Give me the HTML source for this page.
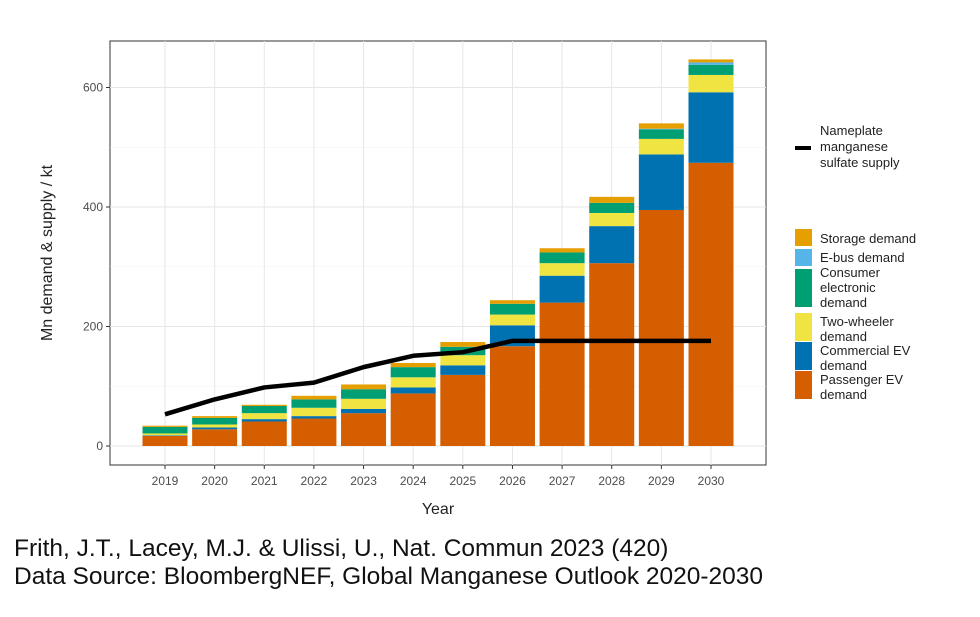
<!DOCTYPE html>
<html><head><meta charset="utf-8"><style>
body{margin:0;background:#fff;font-family:"Liberation Sans",Arial,sans-serif;}
svg text{font-family:"Liberation Sans",Arial,sans-serif;}
.foot{position:absolute;left:14px;font-size:24.5px;color:#111;line-height:28px;white-space:nowrap;}
</style></head><body>
<div style="position:relative;width:980px;height:617px;">
<svg id="chart" width="980" height="617" style="position:absolute;left:0;top:0"></svg>
<div class="foot" style="top:535px">Frith, J.T., Lacey, M.J. &amp; Ulissi, U., Nat. Commun 2023 (420)</div>
<div class="foot" style="top:563px">Data Source: BloombergNEF, Global Manganese Outlook 2020-2030</div>
</div>
<script>
const years=["2019","2020","2021","2022","2023","2024","2025","2026","2027","2028","2029","2030"];
const passenger=[17,28,41,46,55,88,119,167,240,306,395,474];
const commercial=[1,3,4,4,7,10,16,35,45,62,93,118];
const twowheeler=[3,5,10,14,17,17,17,18,21,22,26,29];
const consumer=[11,11,12,14,16,17,14,18,18,17,16,17];
const ebus=[0,0,0,0,0,0,0,0,0,0,1,4];
const storage=[2,3,2,6,8,7,8,6,7,10,9,5];
const supply=[53,78,98,106,132,151,157,176,176,176,176,176];
const yTicks=[0,200,400,600];

const NS="http://www.w3.org/2000/svg";
const svg=document.getElementById('chart');
function mk(t,a,p){const e=document.createElementNS(NS,t);for(const k in a)e.setAttribute(k,a[k]);(p||svg).appendChild(e);return e;}
const P={l:110,r:766,t:41,b:465};
const y=v=>446-v*0.5975;
const x=i=>165+i*(711-165)/11;
const bw=45;

let panel=mk('rect',{x:P.l,y:P.t,width:P.r-P.l,height:P.b-P.t,fill:'#fff',stroke:'#333','stroke-width':1});

[100,300,500].forEach(v=>{mk('line',{x1:P.l,x2:P.r,y1:y(v),y2:y(v),stroke:'#f2f2f2','stroke-width':0.6});});
yTicks.forEach(v=>{
 let g=mk('line',{x1:P.l,x2:P.r,y1:y(v),y2:y(v),stroke:'#e6e6e6','stroke-width':1});
 
 mk('line',{x1:P.l-4,x2:P.l,y1:y(v),y2:y(v),stroke:'#333'});
 let t=mk('text',{x:P.l-7,y:y(v)+4,'text-anchor':'end','font-size':12,fill:'#4d4d4d'});t.textContent=v;
 
});
years.forEach((yr,i)=>{
 let g=mk('line',{x1:x(i),x2:x(i),y1:P.t,y2:P.b,stroke:'#e6e6e6'});
 
 mk('line',{x1:x(i),x2:x(i),y1:P.b,y2:P.b+4,stroke:'#333'});
 let t=mk('text',{x:x(i),y:P.b+20,'text-anchor':'middle','font-size':12,fill:'#4d4d4d'});t.textContent=yr;
 
});
const series=[["passenger",passenger,"#d55e00"],["commercial",commercial,"#0072b2"],["two-wheeler",twowheeler,"#f0e442"],["consumer",consumer,"#009e73"],["ebus",ebus,"#56b4e9"],["storage",storage,"#e69f00"]];
years.forEach((yr,i)=>{
 let base=0;
 series.forEach(([n,arr,c])=>{
  const v=arr[i];if(v<=0)return;
  let r=mk('rect',{x:x(i)-bw/2,y:y(base+v),width:bw,height:y(base)-y(base+v),fill:c});
  
  base+=v;
 });
});
let pts=supply.map((v,i)=>x(i)+','+y(v)).join(' ');
let line=mk('polyline',{points:pts,fill:'none',stroke:'#000','stroke-width':4.5,'stroke-linejoin':'round'});

let yt=mk('text',{x:52,y:253,'text-anchor':'middle','font-size':16,fill:'#222',transform:'rotate(-90 52 253)'});yt.textContent='Mn demand & supply / kt';

let xt=mk('text',{x:438,y:514,'text-anchor':'middle','font-size':16,fill:'#222'});xt.textContent='Year';

let ll=mk('line',{x1:795,x2:811,y1:148,y2:148,stroke:'#000','stroke-width':4});

[["Nameplate",135],["manganese",151],["sulfate supply",167]].forEach(([s,yy])=>{let t=mk('text',{x:820,y:yy,'font-size':13,fill:'#222'});t.textContent=s;});
const leg=[["#e69f00",229,["Storage demand"],243],["#56b4e9",249,["E-bus demand"],262],["#009e73",269,["Consumer","electronic","demand"],277],["#f0e442",313,["Two-wheeler","demand"],326],["#0072b2",342,["Commercial EV","demand"],355],["#d55e00",371,["Passenger EV","demand"],384]];
leg.forEach(([c,by,lines,ty])=>{
 let r=mk('rect',{x:795,y:by,width:17,height:lines.length==3?38:(lines.length==2?28:17),fill:c});
 
 lines.forEach((s,j)=>{let t=mk('text',{x:820,y:ty+j*15,'font-size':13,fill:'#222'});t.textContent=s;});
});
</script>
</body></html>
